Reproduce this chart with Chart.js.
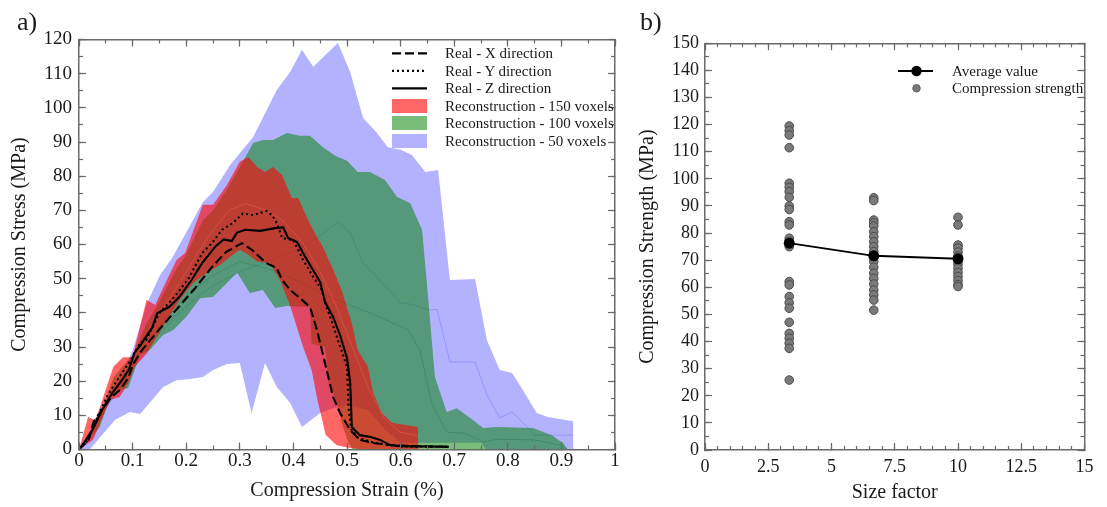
<!DOCTYPE html>
<html>
<head>
<meta charset="utf-8">
<script src="https://cdn.jsdelivr.net/npm/chart.js@4.4.1/dist/chart.umd.min.js"></script>
<style>
  html, body { margin: 0; padding: 0; background: #fff; }
  #wrap { position: relative; width: 1107px; height: 507px; overflow: hidden;
          font-family: "Liberation Serif", "Times New Roman", serif; color: #1a1a1a; }
  canvas { position: absolute; top: 0; }
  .panel { position: absolute; font-size: 26px; line-height: 26px; }
  .lg { position: absolute; font-size: 15px; line-height: 18px; white-space: nowrap; }
  .sw { position: absolute; overflow: visible; }
</style>
</head>
<body>
<div id="wrap">
  <canvas id="strainChart" width="635" height="507" style="left:0"></canvas>
  <canvas id="sizeChart" width="472" height="507" style="left:635px"></canvas>

  <div class="panel" style="left:17px;top:9px">a)</div>
  <div class="panel" style="left:640px;top:9px">b)</div>

  <!-- legend, panel a -->
  <svg class="sw" style="left:392px;top:46px" width="36" height="14"><line x1="0" y1="7.3" x2="35" y2="7.3" stroke="#000" stroke-width="2.2" stroke-dasharray="9 4"/></svg>
  <div class="lg" style="left:445px;top:44px">Real - X direction</div>
  <svg class="sw" style="left:392px;top:64px" width="36" height="14"><line x1="0" y1="6.8" x2="35" y2="6.8" stroke="#000" stroke-width="2.2" stroke-dasharray="2 3"/></svg>
  <div class="lg" style="left:445px;top:62px">Real - Y direction</div>
  <svg class="sw" style="left:392px;top:81px" width="36" height="14"><line x1="0" y1="7.3" x2="35" y2="7.3" stroke="#000" stroke-width="2.2"/></svg>
  <div class="lg" style="left:445px;top:79px">Real - Z direction</div>
  <svg class="sw" style="left:392px;top:99px" width="36" height="14"><rect x="0" y="0" width="35" height="14" fill="rgba(255,0,0,0.6)"/></svg>
  <div class="lg" style="left:445px;top:97px">Reconstruction - 150 voxels</div>
  <svg class="sw" style="left:392px;top:116px" width="36" height="14"><rect x="0" y="0" width="35" height="14" fill="rgba(0,128,0,0.52)"/></svg>
  <div class="lg" style="left:445px;top:114px">Reconstruction - 100 voxels</div>
  <svg class="sw" style="left:392px;top:134px" width="36" height="14"><rect x="0" y="0" width="35" height="14" fill="rgba(0,0,255,0.3)"/></svg>
  <div class="lg" style="left:445px;top:132px">Reconstruction - 50 voxels</div>

  <!-- legend, panel b -->
  <svg class="sw" style="left:898px;top:64px" width="36" height="14"><line x1="0" y1="7" x2="35" y2="7" stroke="#000" stroke-width="2"/><circle cx="18.5" cy="7" r="5.2" fill="#000"/></svg>
  <div class="lg" style="left:952px;top:62px">Average value</div>
  <svg class="sw" style="left:898px;top:81px" width="36" height="14"><circle cx="18.5" cy="7.3" r="3.8" fill="#7a7a7a" stroke="#505050" stroke-width="0.8"/></svg>
  <div class="lg" style="left:952px;top:79px">Compression strength</div>
</div>

<script>
// ---------- panel a: stress–strain curves ----------
const strainTicks = [0, 0.1, 0.2, 0.3, 0.4, 0.5, 0.6, 0.7, 0.8, 0.9, 1];
const strainTickLabels = ['0', '0.1', '0.2', '0.3', '0.4', '0.5', '0.6', '0.7', '0.8', '0.9', '1'];
const stressTicks = [0, 10, 20, 30, 40, 50, 60, 70, 80, 90, 100, 110, 120];
const stressTickLabels = ['0', '10', '20', '30', '40', '50', '60', '70', '80', '90', '100', '110', '120'];

// measured curves: [strain %, stress MPa]
const realX = [[0,0],[0.018,2.8],[0.027,8],[0.045,12.1],[0.061,15.4],[0.077,17.5],[0.092,21],[0.101,25],[0.117,29],
  [0.149,35],[0.186,41.7],[0.218,47.5],[0.248,53.4],[0.274,57.8],[0.304,60.4],[0.323,58.4],[0.349,54.6],[0.369,53.1],
  [0.379,49.6],[0.394,46.7],[0.416,43.8],[0.431,41.7],[0.444,35],[0.453,29.1],[0.462,23.3],[0.474,15.4],[0.487,10.7],
  [0.506,5.7],[0.524,2.8],[0.549,1.9],[0.58,1.3],[0.62,1],[0.69,0.8]];
const realY = [[0,0],[0.018,3],[0.03,8],[0.052,15.4],[0.07,20],[0.093,25.3],[0.114,31.2],[0.125,32],[0.15,39.9],
  [0.181,45.2],[0.205,50.2],[0.23,57.5],[0.248,60.4],[0.267,64.3],[0.287,66.3],[0.306,69.1],[0.325,68.6],[0.35,69.8],
  [0.36,68.6],[0.369,66.3],[0.379,61.9],[0.4,61.3],[0.418,55.5],[0.437,50.5],[0.453,46.7],[0.459,43.2],[0.481,33],
  [0.5,24.2],[0.503,12],[0.508,6],[0.52,3.5],[0.55,2],[0.6,0.8],[0.69,0.8]];
const realZ = [[0,0],[0.013,2.8],[0.025,5.7],[0.045,12.1],[0.062,16.5],[0.08,20.3],[0.093,23.3],[0.103,28.2],[0.115,30.6],
  [0.137,35.8],[0.146,39.9],[0.168,41.7],[0.187,44.6],[0.21,49.6],[0.23,54.6],[0.255,59.5],[0.27,61.5],[0.285,61],
  [0.295,63.5],[0.31,64.3],[0.338,64],[0.366,64.8],[0.381,65],[0.39,61.9],[0.407,60.7],[0.418,57.5],[0.431,54],
  [0.45,49],[0.459,43.2],[0.474,38.8],[0.487,33.5],[0.5,26.8],[0.506,19.5],[0.509,6.6],[0.524,4.2],[0.543,3.7],
  [0.562,2.8],[0.58,1.3],[0.6,1],[0.69,0.8]];

// reconstruction envelopes (upper and lower bounds)
const rec150Upper = [[0,0],[0.017,9.6],[0.03,8.5],[0.039,12.4],[0.064,24.2],[0.082,27],[0.1,27],[0.126,43.8],[0.142,42.3],
  [0.164,49.6],[0.182,55.5],[0.198,57.5],[0.231,71.6],[0.25,71.6],[0.276,77.4],[0.3,84.2],[0.316,85.6],[0.332,82.7],
  [0.347,81.2],[0.362,82.7],[0.379,80.3],[0.397,73.6],[0.409,73.6],[0.425,68],[0.44,63.3],[0.455,59.3],[0.472,53.4],
  [0.49,46.7],[0.509,37],[0.52,29.1],[0.539,24.2],[0.549,16.5],[0.565,10.7],[0.584,7.8],[0.632,6.6],[0.633,0]];
const rec150Lower = [[0,0],[0.026,2.8],[0.058,14.5],[0.076,15.4],[0.092,19.5],[0.104,24.2],[0.127,28.2],[0.145,33],
  [0.164,37.9],[0.188,43.8],[0.213,48.7],[0.239,51.7],[0.263,54],[0.287,57],[0.3,58.5],[0.316,57],[0.332,55],
  [0.356,54.6],[0.375,49.6],[0.394,42],[0.418,30],[0.434,23.3],[0.446,13.6],[0.455,7.8],[0.46,4.3],[0.48,1.3],
  [0.5,0.6],[0.53,0],[0.633,0]];
const rec100Upper = [[0,0],[0.02,5],[0.04,10.5],[0.064,21],[0.082,24.5],[0.1,27],[0.126,37],[0.142,41],[0.164,47.5],
  [0.182,53],[0.198,56.5],[0.231,67],[0.25,70],[0.276,76],[0.3,82.7],[0.325,89.7],
  [0.343,90.6],[0.362,90.6],[0.388,92.6],[0.412,91.8],[0.431,91.8],[0.455,88.5],[0.478,86],[0.5,84.5],[0.52,81.2],
  [0.543,81.2],[0.571,78.9],[0.593,74],[0.618,72.1],[0.64,64.3],[0.649,48.7],[0.664,21.2],[0.686,11],[0.705,12.1],
  [0.73,9.2],[0.754,6.3],[0.78,6.6],[0.847,6.3],[0.882,4.2],[0.903,1.9],[0.912,0]];
const rec100Lower = [[0,0],[0.02,3],[0.039,6.6],[0.058,15.4],[0.076,17.4],[0.092,18],[0.114,27.7],[0.132,29.1],
  [0.157,33.5],[0.176,35],[0.2,38.8],[0.226,44.3],[0.25,44.6],[0.276,48.7],[0.295,51.7],[0.319,45.8],[0.343,46.7],
  [0.366,41.4],[0.388,42],[0.431,41.7],[0.434,31],[0.459,30],[0.465,20],[0.481,13.6],[0.49,8],[0.5,3],[0.51,0],[0.912,0]];
const rec50Upper = [[0,0],[0.05,14],[0.1,29],[0.127,42.8],[0.151,51],[0.1735,56],[0.231,72.4],[0.25,75.4],[0.282,83.3],
  [0.325,91.5],[0.369,105.2],[0.394,110.5],[0.416,117],[0.437,112],[0.483,119],[0.506,110.5],[0.53,97],[0.556,92.6],
  [0.576,88.5],[0.6,87.7],[0.621,86.2],[0.646,81.2],[0.67,81.8],[0.692,49.6],[0.739,49.9],[0.761,32],[0.785,23.3],
  [0.808,22.4],[0.828,17.4],[0.854,10.7],[0.875,9.5],[0.922,8.3],[0.922,0]];
const rec50Lower = [[0,0],[0.02,0],[0.067,8.6],[0.095,11],[0.114,10.4],[0.157,18.3],[0.182,20.3],[0.207,20.6],
  [0.231,21.2],[0.25,23.3],[0.276,25],[0.3,25.3],[0.322,10.7],[0.347,25.3],[0.369,18.3],[0.394,13.6],[0.416,6.6],
  [0.45,10.7],[0.474,12.1],[0.5,13],[0.54,11.5],[0.57,6],[0.6,2],[0.69,2],[0.75,2],[0.76,0],[0.922,0]];

// mean reconstruction curves (faint)
const rec150Mean = [[0,0],[0.1,27],[0.2,52],[0.24,62],[0.28,70],[0.31,72],[0.35,70],[0.38,67],[0.42,60],[0.45,52],
  [0.48,42],[0.51,30],[0.54,18],[0.57,9],[0.6,5],[0.633,4]];
const rec100Mean = [[0,0],[0.05,12],[0.1,25],[0.15,36],[0.2,45],[0.25,51],[0.3,55],[0.35,53],[0.4,50],[0.45,46],
  [0.5,42.5],[0.543,40],[0.56,38.8],[0.614,35],[0.636,29.1],[0.658,13.6],[0.686,5.1],[0.72,4.8],[0.754,2.2],
  [0.78,3],[0.85,2.8],[0.897,1.3],[0.91,0]];
const rec50Mean = [[0,0],[0.05,12],[0.1,24],[0.15,34],[0.2,42],[0.25,48],[0.3,52],[0.35,55],[0.4,58],[0.444,61.9],
  [0.483,66.6],[0.506,63.3],[0.53,54.6],[0.556,50.5],[0.6,42.9],[0.62,42.5],[0.651,40.8],[0.668,41],[0.692,25.6],
  [0.739,25.6],[0.761,16],[0.785,9.2],[0.808,11],[0.836,6.6],[0.85,4.2],[0.922,4.2]];

// ---------- panel b: strength vs size factor ----------
const sizeFactors = [3.33, 6.67, 10];
const sizeTicks = [0, 2.5, 5, 7.5, 10, 12.5, 15];
const sizeTickLabels = ['0', '2.5', '5', '7.5', '10', '12.5', '15'];
const strengthTicks = [0, 10, 20, 30, 40, 50, 60, 70, 80, 90, 100, 110, 120, 130, 140, 150];
const strengthTickLabels = ['0', '10', '20', '30', '40', '50', '60', '70', '80', '90', '100', '110', '120', '130', '140', '150'];
const strengthSize1 = [119.5, 117.8, 116.2, 111.5, 98.4, 96.9, 95.3, 93.2, 90, 88.7, 84.2, 83, 78.1, 77, 75,
  62.1, 60.9, 56.6, 54.3, 52.3, 47.1, 43, 41.2, 39.4, 37.5, 25.8];
const strengthSize2 = [93, 92, 84.8, 83.8, 82.6, 80.5, 78.7, 76.8, 75, 73.2, 71.5, 69.5, 67.4, 65.2, 63.3, 61.2,
  59, 57.2, 55.3, 51.6];
const strengthSize3 = [85.8, 83, 75.6, 74.5, 73, 71.5, 70, 68.5, 67, 65.5, 64, 62.5, 61, 60.3];
const averageStrength = [76.3, 71.6, 70.5];

// ---------- shared helpers ----------
const AXIS_COLOR = '#6a6a6a';
const TEXT_COLOR = '#1a1a1a';
Chart.defaults.font.family = '"Liberation Serif", "Times New Roman", serif';
Chart.defaults.color = TEXT_COLOR;

const steps = (min, max, step) => {
  const out = [];
  for (let i = 0; min + i * step <= max + 1e-9; i++) out.push(+(min + i * step).toFixed(4));
  return out;
};
const pts = arr => arr.map(([x, y]) => ({ x, y }));
const envelope = (upper, lower) => pts(upper.concat(lower.slice().reverse()));

// one axis box; negative tick length puts the marks inside the frame
function axis(o) {
  const horizontal = o.position === 'top' || o.position === 'bottom';
  return {
    type: 'linear', position: o.position, min: o.min, max: o.max, weight: o.weight || 0,
    afterBuildTicks: s => { s.ticks = o.values.map(v => ({ value: v })); },
    afterFit: s => { if (horizontal) s.height = o.size; else s.width = o.size; },
    ticks: o.labels
      ? { display: true, autoSkip: false, maxRotation: 0, minRotation: 0, padding: o.padding, color: TEXT_COLOR,
          font: { size: o.fontSize }, callback: (v, i) => o.labels[i] }
      : { display: false },
    grid: { drawOnChartArea: false, drawTicks: true, tickLength: -o.tickLen, tickColor: AXIS_COLOR, tickWidth: 1.2, z: 1 },
    border: { display: !!o.border, color: AXIS_COLOR, width: 1.5, z: 1 },
    title: o.title
      ? { display: true, text: o.title, color: TEXT_COLOR, font: { size: 20 }, padding: o.titlePad }
      : { display: false }
  };
}

function frameScales(c) {
  return {
    x: axis({ position: 'bottom', min: c.xMin, max: c.xMax, values: c.xTicks, labels: c.xLabels, tickLen: 7,
      size: c.bottomSize, weight: 1, padding: c.xPad, fontSize: c.fontSize, border: true,
      title: c.xTitle, titlePad: { top: 0, bottom: c.xTitlePad } }),
    xMinor: axis({ position: 'bottom', min: c.xMin, max: c.xMax, values: c.xMinor, tickLen: 4, size: 0, weight: 0 }),
    xTop: axis({ position: 'top', min: c.xMin, max: c.xMax, values: c.xTicks, tickLen: 7, size: 0, border: true }),
    xTopMinor: axis({ position: 'top', min: c.xMin, max: c.xMax, values: c.xMinor, tickLen: 4, size: 0 }),
    y: axis({ position: 'left', min: c.yMin, max: c.yMax, values: c.yTicks, labels: c.yLabels, tickLen: 7,
      size: c.leftSize, weight: 1, padding: c.yPad, fontSize: c.fontSize, border: true,
      title: c.yTitle, titlePad: { top: c.yTitlePad, bottom: 0 } }),
    yMinor: axis({ position: 'left', min: c.yMin, max: c.yMax, values: c.yMinor, tickLen: 4, size: 0, weight: 0 }),
    yRight: axis({ position: 'right', min: c.yMin, max: c.yMax, values: c.yTicks, tickLen: 7, size: 0, border: true }),
    yRightMinor: axis({ position: 'right', min: c.yMin, max: c.yMax, values: c.yMinor, tickLen: 4, size: 0 })
  };
}

const commonOptions = {
  responsive: false, devicePixelRatio: 1, animation: false,
  plugins: { legend: { display: false }, tooltip: { enabled: false } },
  elements: { line: { tension: 0 }, point: { radius: 0 } }
};

const curve = (label, data, dash) => ({
  type: 'line', label, data: pts(data), borderColor: '#000', borderWidth: 2.1, borderDash: dash,
  pointRadius: 0, fill: false, xAxisID: 'x', yAxisID: 'y'
});
const faint = (data, color) => ({
  type: 'line', data: pts(data), borderColor: color, borderWidth: 1, pointRadius: 0, fill: false,
  xAxisID: 'x', yAxisID: 'y'
});
const band = (label, upper, lower, color) => ({
  type: 'line', label, data: envelope(upper, lower), fill: 'shape', backgroundColor: color,
  borderColor: 'rgba(0,0,0,0)', borderWidth: 0, pointRadius: 0, xAxisID: 'x', yAxisID: 'y'
});

new Chart(document.getElementById('strainChart'), {
  type: 'line',
  data: {
    datasets: [
      curve('Real - X direction', realX, [9, 4]),
      curve('Real - Y direction', realY, [2, 3]),
      curve('Real - Z direction', realZ, []),
      faint(rec150Mean, 'rgba(255,120,120,0.3)'),
      band('Reconstruction - 150 voxels', rec150Upper, rec150Lower, 'rgba(255,0,0,0.6)'),
      faint(rec100Mean, 'rgba(20,110,50,0.3)'),
      band('Reconstruction - 100 voxels', rec100Upper, rec100Lower, 'rgba(0,128,0,0.52)'),
      faint(rec50Mean, 'rgba(80,80,255,0.3)'),
      band('Reconstruction - 50 voxels', rec50Upper, rec50Lower, 'rgba(0,0,255,0.3)')
    ]
  },
  options: {
    ...commonOptions,
    layout: { autoPadding: false, padding: { left: 0, top: 39.5, right: 20, bottom: 0 } },
    scales: frameScales({
      xMin: 0, xMax: 1, xTicks: strainTicks, xLabels: strainTickLabels, xMinor: steps(0, 1, 0.05),
      yMin: 0, yMax: 120, yTicks: stressTicks, yLabels: stressTickLabels, yMinor: steps(0, 120, 5),
      bottomSize: 57.5, leftSize: 79, xPad: 7.5, yPad: 14, fontSize: 19,
      xTitle: 'Compression Strain (%)', xTitlePad: 4, yTitle: 'Compression Stress (MPa)', yTitlePad: 7.5
    })
  }
});

const column = (x, values) => values.map(v => ({ x, y: v }));

new Chart(document.getElementById('sizeChart'), {
  type: 'scatter',
  data: {
    datasets: [
      {
        type: 'line', label: 'Average value',
        data: sizeFactors.map((x, i) => ({ x, y: averageStrength[i] })),
        borderColor: '#000', borderWidth: 2, pointRadius: 5.5, pointBackgroundColor: '#000',
        pointBorderColor: '#000', pointBorderWidth: 0, fill: false, xAxisID: 'x', yAxisID: 'y'
      },
      {
        type: 'scatter', label: 'Compression strength',
        data: column(sizeFactors[0], strengthSize1)
          .concat(column(sizeFactors[1], strengthSize2))
          .concat(column(sizeFactors[2], strengthSize3)),
        pointRadius: 4.3, pointBackgroundColor: '#7a7a7a', pointBorderColor: '#4a4a4a', pointBorderWidth: 1,
        xAxisID: 'x', yAxisID: 'y'
      }
    ]
  },
  options: {
    ...commonOptions,
    layout: { autoPadding: false, padding: { left: 0, top: 43.3, right: 11, bottom: 0 } },
    scales: frameScales({
      xMin: 0, xMax: 15, xTicks: sizeTicks, xLabels: sizeTickLabels, xMinor: steps(0, 15, 0.5),
      yMin: 0, yMax: 150, yTicks: strengthTicks, yLabels: strengthTickLabels, yMinor: steps(0, 150, 5),
      bottomSize: 57, leftSize: 70, xPad: 13.5, yPad: 13, fontSize: 18,
      xTitle: 'Size factor', xTitlePad: 2, yTitle: 'Compression Strength (MPa)', yTitlePad: 1
    })
  }
});
</script>
</body>
</html>
